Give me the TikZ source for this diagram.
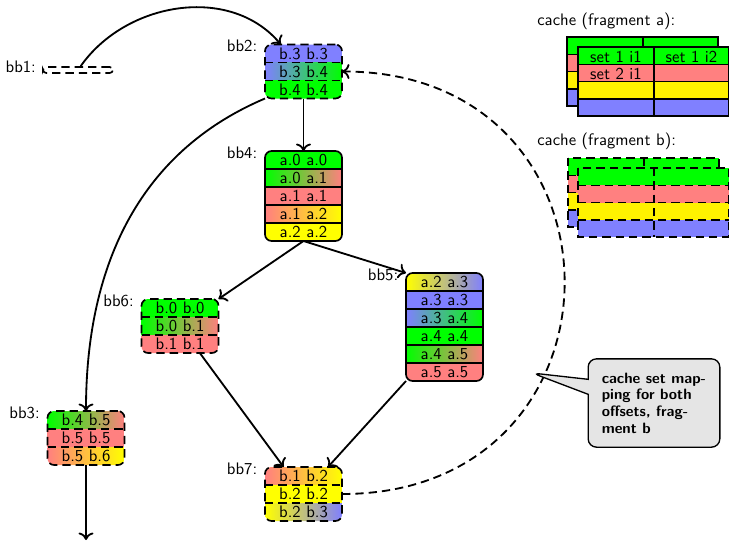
\documentclass[tikz,border=0pt]{standalone}
\usetikzlibrary{shapes.callouts,calc,arrows.meta}
\tikzset{
  dashpat/.style={dash pattern=on 5pt off 3pt},
  % basic block: #1 = number of rows, #2 = line style, #3 = rows as leftcolour/rightcolour/text
  blk/.style n args={3}{draw, line width=1pt, #2, rounded corners=4pt,
    inner sep=0pt, outer sep=0pt, minimum width=46.2pt, minimum height=#1*10.8pt,
    path picture={
      \foreach \lc/\rc/\tx [count=\i from 0] in {#3} {
        \shade[sharp corners, left color=\lc, right color=\rc]
          ([yshift=-\i*10.8pt]path picture bounding box.north west) rectangle
          ([yshift=-\i*10.8pt-10.8pt]path picture bounding box.north east);
        \node[anchor=base, inner sep=0pt] at
          ([yshift=-\i*10.8pt-5.4pt-3.4pt]path picture bounding box.north) {\tx};
        \ifnum\i>0
          \draw[sharp corners, line width=1pt, #2]
            ([yshift=-\i*10.8pt]path picture bounding box.north west) --
            ([yshift=-\i*10.8pt]path picture bounding box.north east);
        \fi
      }
    }},
  lbl/.style={anchor=base east, inner sep=0pt},
  conn/.style={line width=1.1pt, -{Computer Modern Rightarrow[length=4.5pt,width=9pt]}},
  cachel/.style={line width=0.9pt},
  notebox/.style={rectangle callout, draw, thick, fill=gray!20, rounded corners=5pt,
    callout pointer width=9pt, minimum width=79pt, minimum height=53pt,
    inner sep=0pt, align=left, font=\sffamily\bfseries\fontsize{9}{10}\selectfont},
}
% cache grid: #1 = left x, #2 = top y, #3 = line style
\newcommand\cachegrid[3]{%
  \foreach \c [count=\i from 0] in {green,red!50,yellow,blue!50}
    \fill[\c] (#1,{#2+\i*17.25}) rectangle ({#1+151},{#2+(\i+1)*17.25});
  \foreach \i in {1,2,3}
    \draw[cachel,#3] (#1,{#2+\i*17.25}) -- ({#1+151},{#2+\i*17.25});
  \draw[cachel,#3] ({#1+76},#2) -- ({#1+76},{#2+69});
  \draw[cachel,#3] (#1,#2) rectangle ({#1+151},{#2+69});
}
\begin{document}
\begin{tikzpicture}[x=0.6pt, y=-0.6pt, font=\sffamily]
\useasboundingbox (0,0) rectangle (729,542);

% basic blocks
\node[draw, dashpat, line width=1pt, rounded corners=2pt, inner sep=0pt,
      minimum width=42pt, minimum height=3.6pt] (bb1) at (78,70) {};
\node[blk={3}{dashpat}{blue!50/blue!50/b.3 b.3, blue!50/green/b.3 b.4, green/green/b.4 b.4}]
  (bb2) at (303.5,71.5) {};
\node[blk={5}{solid}{green/green/a.0 a.0, green/red!50/a.0 a.1, red!50/red!50/a.1 a.1,
      red!50/yellow/a.1 a.2, yellow/yellow/a.2 a.2}]
  (bb4) at (303.5,196) {};
\node[blk={6}{solid}{yellow/blue!50/a.2 a.3, blue!50/blue!50/a.3 a.3, blue!50/green/a.3 a.4,
      green/green/a.4 a.4, green/red!50/a.4 a.5, red!50/red!50/a.5 a.5}]
  (bb5) at (444.5,327) {};
\node[blk={3}{dashpat}{green/green/b.0 b.0, green/red!50/b.0 b.1, red!50/red!50/b.1 b.1}]
  (bb6) at (180,326) {};
\node[blk={3}{dashpat}{green/red!50/b.4 b.5, red!50/red!50/b.5 b.5, red!50/yellow/b.5 b.6}]
  (bb3) at (86,438) {};
\node[blk={3}{dashpat}{red!50/yellow/b.1 b.2, yellow/yellow/b.2 b.2, yellow/blue!50/b.2 b.3}]
  (bb7) at (303.5,494) {};

% block labels
\node[lbl] (l1) at ([xshift=-3.6pt,yshift=-3.6pt]bb1.north west) {bb1:};
\node[lbl] (l2) at ([xshift=-4.5pt,yshift=-4.2pt]bb2.north west) {bb2:};
\node[lbl] (l4) at ([xshift=-4.5pt,yshift=-4.2pt]bb4.north west) {bb4:};
\node[lbl] (l5) at ([xshift=-4.5pt,yshift=-4.2pt]bb5.north west) {bb5:};
\node[lbl] (l6) at ([xshift=-4.5pt,yshift=-4.2pt]bb6.north west) {bb6:};
\node[lbl] (l3) at ([xshift=-4.5pt,yshift=-4.2pt]bb3.north west) {bb3:};
\node[lbl] (l7) at ([xshift=-4.5pt,yshift=-4.2pt]bb7.north west) {bb7:};

% control flow
\coordinate (exit) at (86,540);
\draw[conn] (bb1) to[out=55,in=130] (bb2);
\draw[conn] (bb2) -- (bb4);
\draw[conn] (bb2.south west) to[out=203,in=90] (bb3.north);
\draw[conn] (bb4.south) -- (bb6.north east);
\draw[conn] (bb4.south) -- (bb5.north west);
\draw[conn] (bb6) -- (bb7);
\draw[conn] (bb5.south west) -- (bb7);
\draw[conn] (bb3) -- (exit);
\draw[conn, dashpat] (bb7.east) to[out=0,in=0,looseness=1.8] (bb2.east);

% cache, fragment a
\node[anchor=base west, inner sep=0pt] (ca) at (537,25) {cache (fragment a):};
\cachegrid{567}{37}{solid}
\cachegrid{578}{47}{solid}
\node[anchor=base, inner sep=0pt] (s11) at (616,62) {set 1 i1};
\node[anchor=base, inner sep=0pt] (s12) at (691.5,62) {set 1 i2};
\node[anchor=base, inner sep=0pt] (s21) at (616,79) {set 2 i1};

% cache, fragment b
\node[anchor=base west, inner sep=0pt] (cb) at (537,145) {cache (fragment b):};
\cachegrid{568}{158}{dashpat}
\cachegrid{578}{168}{dashpat}

% note
\node[notebox, callout absolute pointer={(532,373)}] (note) at (654,403)
  {cache set map-\\ping for both\\offsets, frag-\\ment b};
\end{tikzpicture}
\end{document}
